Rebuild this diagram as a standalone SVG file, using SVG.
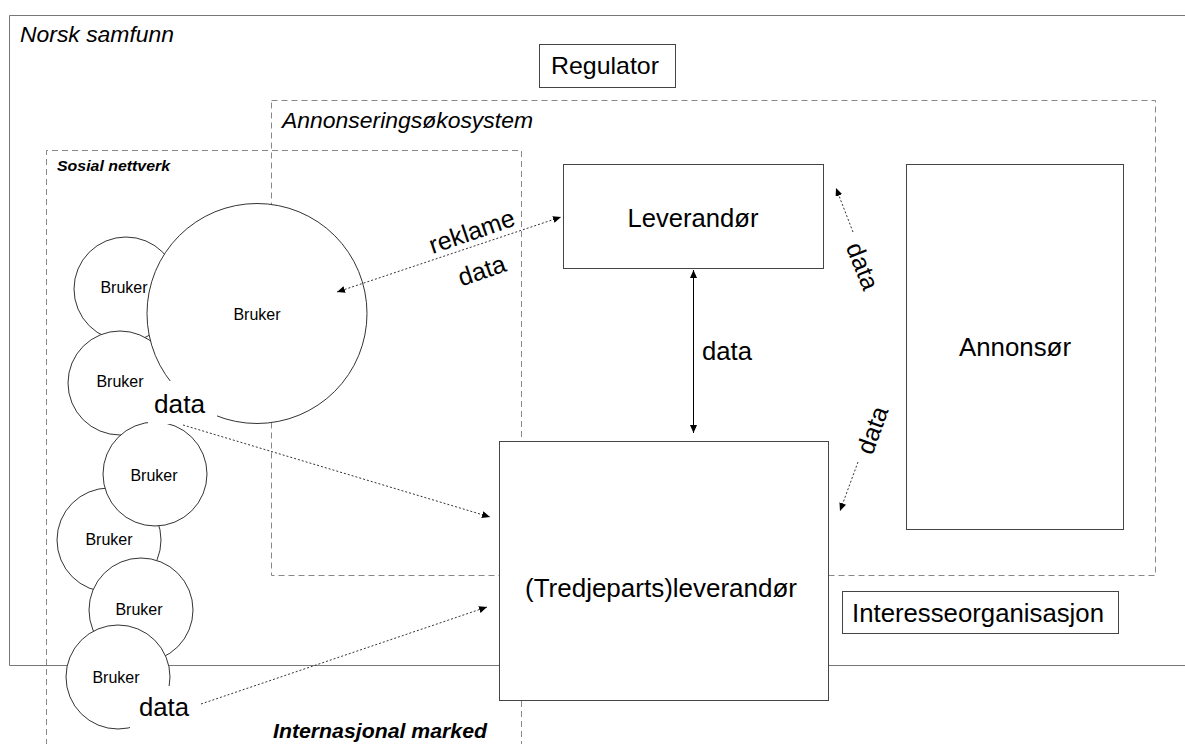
<svg xmlns="http://www.w3.org/2000/svg" width="1185" height="744" viewBox="0 0 1185 744">
<defs>
<style>
text{font-family:"Liberation Sans",Arial,sans-serif;fill:#000}
.frame{fill:none;stroke:#777;stroke-width:1}
.dash{fill:none;stroke:#888;stroke-width:1;stroke-dasharray:6 4}
.box{fill:#fff;stroke:#444;stroke-width:1}
.circ{fill:#fff;stroke:#333;stroke-width:1}
.dot{fill:none;stroke:#333;stroke-width:1;stroke-dasharray:2 2}
.solid{fill:none;stroke:#000;stroke-width:1}
.lbl{font-size:25px}
.bru{font-size:16px;text-anchor:middle}
.it{font-style:italic}
</style>
<marker id="ah" viewBox="0 0 8 7" refX="8" refY="3.5" markerWidth="8" markerHeight="7" markerUnits="userSpaceOnUse" orient="auto-start-reverse">
<path d="M0,0 L8,3.5 L0,7 z" fill="#000"/>
</marker>
</defs>
<rect width="1185" height="744" fill="#fff"/>

<g id="norsk-samfunn">
<path class="frame" d="M1186,15.5 H9.5 V665.5 H1186"/>
<text class="it" x="20" y="42" font-size="22" textLength="154" lengthAdjust="spacingAndGlyphs">Norsk samfunn</text>
</g>

<g id="annonseringsokosystem">
<rect class="dash" x="271.5" y="100.5" width="884" height="475"/>
<text class="it" x="282" y="128" font-size="22" textLength="251" lengthAdjust="spacingAndGlyphs">Annonseringsøkosystem</text>
</g>

<g id="sosial-nettverk">
<path class="dash" d="M46.5,745 V150.5 H521.5 V745"/>
<text class="it" x="57" y="171" font-size="15" font-weight="bold" textLength="113" lengthAdjust="spacingAndGlyphs">Sosial nettverk</text>
</g>

<g id="internasjonal-marked">
<text class="it" x="273" y="738" font-size="21" font-weight="bold" textLength="214" lengthAdjust="spacingAndGlyphs">Internasjonal marked</text>
</g>

<g id="regulator">
<rect class="box" x="539.5" y="44.5" width="136" height="43"/>
<text x="605" y="74" font-size="24" text-anchor="middle" textLength="108" lengthAdjust="spacingAndGlyphs">Regulator</text>
</g>

<g id="leverandor">
<rect class="box" x="563.5" y="164.5" width="260" height="104"/>
<text x="693" y="227" font-size="25" text-anchor="middle" textLength="131" lengthAdjust="spacingAndGlyphs">Leverandør</text>
</g>

<g id="annonsor">
<rect class="box" x="906.5" y="164.5" width="217" height="365"/>
<text x="1015" y="356" font-size="25" text-anchor="middle" textLength="112" lengthAdjust="spacingAndGlyphs">Annonsør</text>
</g>

<g id="interesseorganisasjon">
<rect class="box" x="842.5" y="591.5" width="276" height="42"/>
<text x="978" y="622" font-size="26" text-anchor="middle" textLength="252" lengthAdjust="spacingAndGlyphs">Interesseorganisasjon</text>
</g>

<g id="tredjeparts-leverandor">
<rect class="box" x="499.5" y="441.5" width="329" height="259"/>
<text x="661" y="597" font-size="26" text-anchor="middle" textLength="272" lengthAdjust="spacingAndGlyphs">(Tredjeparts)leverandør</text>
</g>

<g id="brukere">
<g id="bruker-1"><circle class="circ" cx="126" cy="289" r="52"/><text class="bru" x="124" y="293">Bruker</text></g>
<g id="bruker-2"><circle class="circ" cx="120" cy="383" r="52"/><text class="bru" x="120" y="387">Bruker</text></g>
<g id="bruker-stor"><circle class="circ" cx="257" cy="313.5" r="110"/><text class="bru" x="257" y="320">Bruker</text></g>
<g id="bruker-4"><circle class="circ" cx="109" cy="540" r="52"/><text class="bru" x="109" y="545">Bruker</text></g>
<g id="bruker-3"><circle class="circ" cx="155" cy="474" r="52"/><text class="bru" x="154" y="481">Bruker</text></g>
<g id="bruker-5"><circle class="circ" cx="141" cy="610" r="52"/><text class="bru" x="139" y="615">Bruker</text></g>
<g id="bruker-6"><circle class="circ" cx="118" cy="677" r="52"/><text class="bru" x="116" y="683">Bruker</text></g>
</g>

<g id="connectors">
<line class="dot" x1="337" y1="292" x2="561" y2="217" marker-start="url(#ah)" marker-end="url(#ah)"/>
<line class="solid" x1="693.5" y1="270" x2="693.5" y2="433" marker-start="url(#ah)" marker-end="url(#ah)"/>
<line class="dot" x1="853" y1="232" x2="836" y2="188" marker-end="url(#ah)"/>
<line class="dot" x1="858" y1="462" x2="840" y2="511" marker-end="url(#ah)"/>
<line class="dot" x1="183" y1="425" x2="490" y2="517" marker-end="url(#ah)"/>
<line class="dot" x1="201" y1="704" x2="487" y2="607" marker-end="url(#ah)"/>

<rect x="148" y="381" width="69" height="43" fill="#fff"/>
<text class="lbl" x="154" y="413" textLength="51" lengthAdjust="spacingAndGlyphs">data</text>
<rect x="130" y="686" width="66" height="46" fill="#fff"/>
<text class="lbl" x="139" y="716" textLength="50" lengthAdjust="spacingAndGlyphs">data</text>

<text class="lbl" transform="translate(472,232) rotate(-19)" x="0" y="8" text-anchor="middle">reklame</text>
<text class="lbl" transform="translate(482,271) rotate(-19)" x="0" y="8" text-anchor="middle">data</text>
<text class="lbl" x="702" y="360" textLength="50" lengthAdjust="spacingAndGlyphs">data</text>
<text class="lbl" transform="translate(863,266) rotate(68)" x="0" y="9" text-anchor="middle">data</text>
<text class="lbl" transform="translate(872,430) rotate(-70)" x="0" y="9" text-anchor="middle">data</text>
</g>
</svg>
